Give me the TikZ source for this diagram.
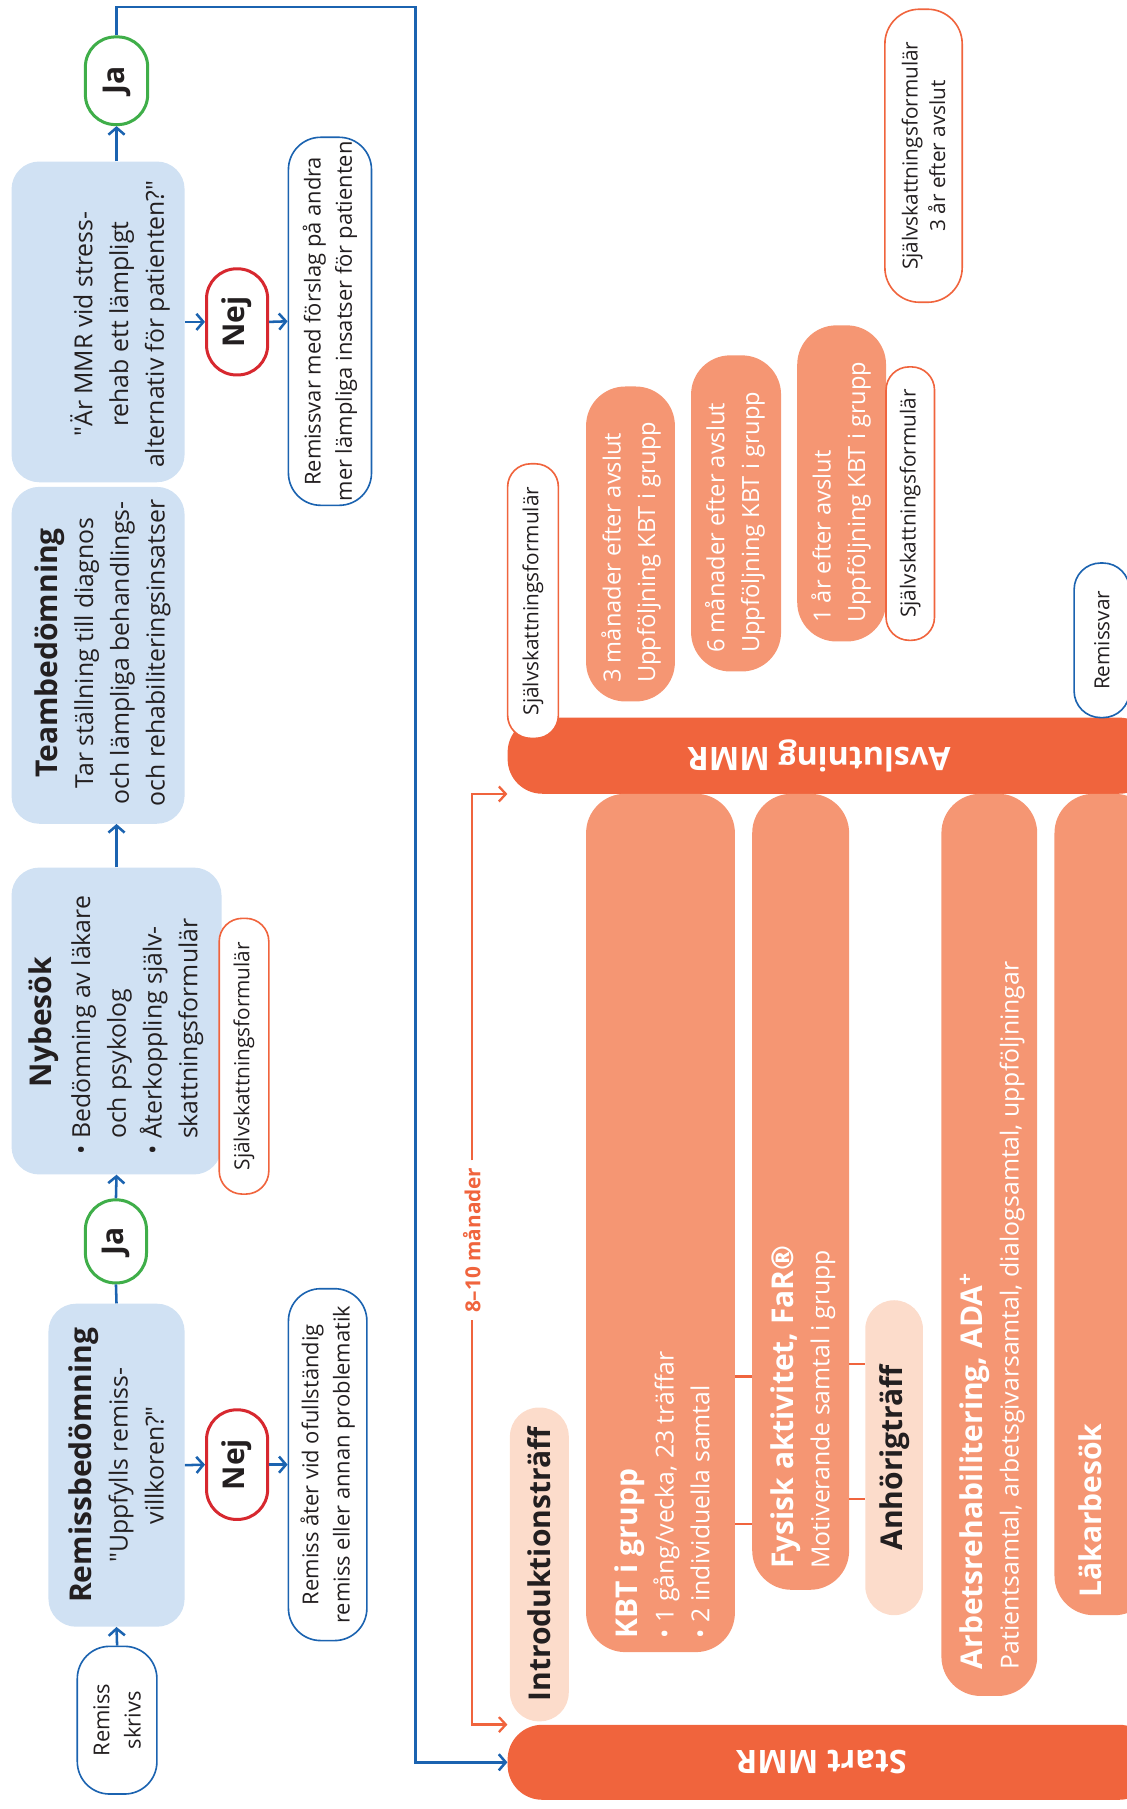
\documentclass[tikz,border=0pt]{standalone}
\usepackage{fontspec}
\setmainfont{Open Sans}
\usepackage{xcolor}
\usetikzlibrary{arrows.meta}

\definecolor{boxblue}{HTML}{D0E1F3}
\definecolor{flowblue}{HTML}{1B63B0}
\definecolor{jagreen}{HTML}{3FAE49}
\definecolor{nejred}{HTML}{D7282F}
\definecolor{mmrorange}{HTML}{F0643D}
\definecolor{salmon}{HTML}{F59673}
\definecolor{peach}{HTML}{FCDCCB}
\definecolor{textdark}{HTML}{231F20}

\newcommand\headsize{\fontsize{26}{31}\selectfont\bfseries}
\newcommand\bodysize{\fontsize{21.5}{31}\selectfont}
\newcommand\barsize{\fontsize{20.5}{30}\selectfont}
\newcommand\smallsize{\fontsize{19}{27}\selectfont}
\newcommand\formsize{\fontsize{18}{24}\selectfont}
\newcommand\answersize{\fontsize{26}{30}\selectfont\bfseries}
\newcommand\mmrsize{\fontsize{28}{30}\selectfont\bfseries}
\newcommand\spansize{\fontsize{18}{22}\selectfont\bfseries}

\begin{document}
\begin{tikzpicture}[x=1pt, y=-1pt,
    every node/.style={inner sep=0pt, text=textdark},
    boxsize/.style 2 args={minimum height=#1pt, minimum width=#2pt},
    upright/.style={rotate=90},
    qbox/.style={upright, fill=boxblue, rounded corners=24pt, align=center, font=\bodysize},
    infobox/.style={upright, draw=flowblue, line width=1.4pt, fill=white, rounded corners=28pt, align=center, font=\smallsize},
    formbox/.style={upright, draw=mmrorange, line width=1.4pt, fill=white, rounded corners=20pt, align=center, font=\formsize},
    answer/.style={upright, line width=2.6pt, fill=white, rounded corners=26pt, font=\answersize},
    jabox/.style={answer, draw=jagreen},
    nejbox/.style={answer, draw=nejred},
    mmrbar/.style={fill=mmrorange, rounded corners=30pt},
    part/.style={upright, fill=salmon, rounded corners=34pt},
    parttext/.style={upright, anchor=west, align=left, text=white, font=\bodysize},
    meet/.style={upright, fill=peach, rounded corners=25pt, font=\headsize},
    arrow/.style={flowblue, line width=2.2pt, -{Straight Barb[length=6pt, width=14pt]}},
    flow/.style={flowblue, line width=2.2pt},
    span/.style={mmrorange, line width=2pt, -{Straight Barb[length=6pt, width=13pt]}},
    tie/.style={mmrorange, line width=2pt}]

    \useasboundingbox (0,0) rectangle (976,1568);

    % remiss och bedömning
    \node[infobox, boxsize={69}{128}] (skrivs) at (101.5,1491) {Remiss\\skrivs};
    \node[qbox, boxsize={118}{280}] (remissb) at (101,1270)
        {{\headsize Remissbedömning}\\\textquotedbl Uppfylls remiss-\\villkoren?\textquotedbl};
    \node[nejbox, boxsize={53}{95}] (nej1) at (205.5,1269.5) {Nej};
    \node[infobox, boxsize={68}{305}] (ater) at (284,1269.5) {Remiss åter vid ofullständig\\remiss eller annan problematik};
    \node[jabox, boxsize={53}{72}] (ja1) at (100.5,1076) {Ja};

    \node[qbox, boxsize={182}{266}] (nybesok) at (101,885) {};
    \node[upright, font=\headsize] (nybesok-rubrik) at (38,886) {Nybesök};
    \node[upright, anchor=west, align=left, font=\bodysize] (nybesok-text) at (119,1001)
        {• Bedömning av läkare\\\phantom{•}\ och psykolog\\• Återkoppling själv-\\\phantom{•}\ skattningsformulär};
    \node[formbox, boxsize={43}{239}] (sjalv1) at (211.5,915.5) {Självskattningsformulär};

    \node[qbox, boxsize={150}{292}] (team) at (85,568) {};
    \node[upright, align=center, font=\bodysize] (team-text) at (89,566)
        {{\headsize Teambedömning}\\Tar ställning till diagnos\\och lämpliga behandlings-\\och rehabiliteringsinsatser};

    \node[qbox, boxsize={150}{278}] (fraga) at (85,279) {};
    \node[upright, align=center, font=\bodysize] (fraga-text) at (104,281)
        {\textquotedbl Är MMR vid stress-\\rehab ett lämpligt\\alternativ för patienten?\textquotedbl};
    \node[nejbox, boxsize={53}{92}] (nej2) at (205.5,279) {Nej};
    \node[infobox, boxsize={72}{319}] (svar) at (286,278.5) {Remissvar med förslag på andra\\mer lämpliga insatser för patienten};
    \node[jabox, boxsize={54}{76}] (ja2) at (101,70) {Ja};

    % MMR-perioden
    \node[mmrbar, minimum width=560pt, minimum height=65pt] (start) at (720,1527.5) {};
    \node[rotate=180, text=white, font=\mmrsize] (start-text) at (712,1527) {Start MMR};
    \node[mmrbar, minimum width=560pt, minimum height=66pt] (avslut) at (720,655) {};
    \node[rotate=180, text=white, font=\mmrsize] (avslut-text) at (710,655) {Avslutning MMR};

    \node[meet, boxsize={51}{272}] (intro) at (467.5,1356) {Introduktionsträff};
    \node[part, boxsize={129}{744}] (kbt) at (572.5,1060) {};
    \node[parttext] (kbt-text) at (574,1420)
        {{\headsize KBT i grupp}\\• 1 gång/vecka, 23 träffar\\• 2 individuella samtal};
    \node[part, boxsize={84}{690}] (fysisk) at (694,1033) {};
    \node[parttext] (fysisk-text) at (696,1360)
        {{\headsize Fysisk aktivitet, FaR®}\\Motiverande samtal i grupp};
    \node[meet, boxsize={50}{273}] (anhorig) at (775,1263.5) {Anhörigträff};
    \node[part, boxsize={83}{782}] (arbete) at (857.5,1079) {};
    \node[parttext] (arbete-text) at (860,1447)
        {{\headsize Arbetsrehabilitering, ADA\textsuperscript{+}}\\Patientsamtal, arbetsgivarsamtal, dialogsamtal, uppföljningar};
    \node[part, boxsize={86}{712}] (lakar) at (957,1044) {};
    \node[upright, anchor=west, text=white, font=\headsize] (lakar-text) at (945,1385) {Läkarbesök};

    % uppföljning
    \node[part, boxsize={77}{273}] (m3) at (546.5,471.5) {};
    \node[parttext, font=\barsize] (m3-text) at (547,592) {3 månader efter avslut\\Uppföljning KBT i grupp};
    \node[part, boxsize={78}{274}] (m6) at (638,445) {};
    \node[parttext, font=\barsize] (m6-text) at (637,566) {6 månader efter avslut\\Uppföljning KBT i grupp};
    \node[part, boxsize={77}{274}] (ar1) at (729.5,419) {};
    \node[parttext, font=\barsize] (ar1-text) at (729,540) {1 år efter avslut\\Uppföljning KBT i grupp};
    \node[formbox, boxsize={44}{238}] (sjalv2) at (462,521) {Självskattningsformulär};
    \node[formbox, boxsize={42}{237}] (sjalv3) at (789,436.5) {Självskattningsformulär};
    \node[infobox, boxsize={48}{134}, rounded corners=23pt, font=\formsize] (remissvar) at (955,555) {Remissvar};
    \node[formbox, boxsize={67}{254}, rounded corners=30pt] (sjalv4) at (800.5,135) {Självskattningsformulär\\3 år efter avslut};

    \node[upright, text=mmrorange, font=\spansize, inner sep=6pt] (period) at (409,1075) {8–10 månader};

    % pilar
    \draw[arrow] (skrivs.east) -- (remissb.west);
    \draw[flow] (remissb.east) -- (ja1.west);
    \draw[arrow] (ja1.east) -- (nybesok.west);
    \draw[arrow] (nybesok.east) -- (nybesok.east |- team.west);
    \draw[arrow] (ja2.west |- fraga.east) -- (ja2.west);
    \draw[arrow] (remissb.south) -- (nej1.north);
    \draw[arrow] (nej1.south) -- (ater.north);
    \draw[arrow] (fraga.south) -- (nej2.north);
    \draw[arrow] (nej2.south) -- (svar.north);
    \draw[arrow] (ja2.east) |- (360,6) |- (start.west);

    \draw[span] (period.east) |- (avslut.south west);
    \draw[span] (period.west) |- (start.north west);
    \draw[tie] (kbt.south |- 0,1193) -- (fysisk.north |- 0,1193);
    \draw[tie] (kbt.south |- 0,1321) -- (fysisk.north |- 0,1321);
    \draw[tie] (fysisk.south |- 0,1182) -- (anhorig.north |- 0,1182);
    \draw[tie] (fysisk.south |- 0,1299) -- (anhorig.north |- 0,1299);
\end{tikzpicture}
\end{document}
